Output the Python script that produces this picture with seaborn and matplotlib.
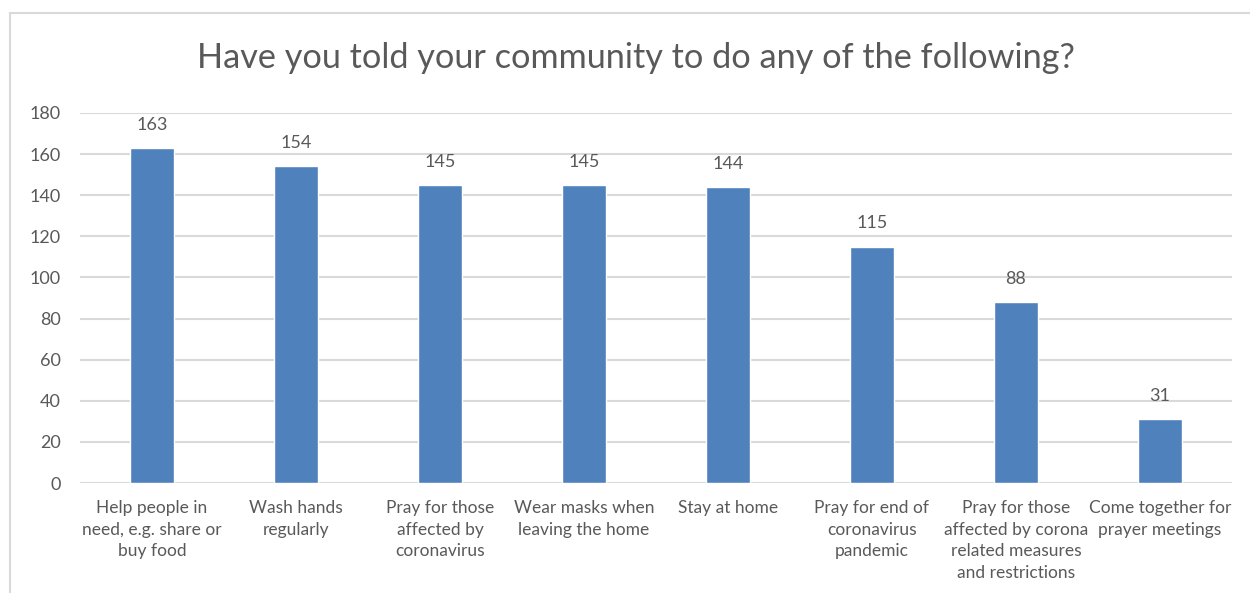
import matplotlib
matplotlib.use("Agg")
import matplotlib.pyplot as plt
import seaborn as sns
import pandas as pd
from matplotlib.patches import Rectangle

categories = [
    "Help people in\nneed, e.g. share or\nbuy food",
    "Wash hands\nregularly",
    "Pray for those\naffected by\ncoronavirus",
    "Wear masks when\nleaving the home",
    "Stay at home",
    "Pray for end of\ncoronavirus\npandemic",
    "Pray for those\naffected by corona\nrelated measures\nand restrictions",
    "Come together for\nprayer meetings",
]
counts = [163, 154, 145, 145, 144, 115, 88, 31]
y_ticks = [0, 20, 40, 60, 80, 100, 120, 140, 160, 180]
title = "Have you told your community to do any of the following?"

BAR = "#4F81BD"
TEXT = "#595959"
GRID = "#D9D9D9"

sns.set_theme(style="white")
plt.rcParams["font.family"] = ["Lato", "DejaVu Sans"]

W, H = 1250, 593
fig = plt.figure(figsize=(W / 100, H / 100), dpi=100)

# outer chart frame (left and top edges visible)
fig.patches.append(Rectangle((10 / W, -0.1), 1.2, (H - 13) / H + 0.1,
                             transform=fig.transFigure, fill=False,
                             edgecolor=GRID, linewidth=1.5))

left, right, top, bottom = 80, 1232, 113, 483
ax = fig.add_axes([left / W, 1 - bottom / H, (right - left) / W, (bottom - top) / H])

df = pd.DataFrame({"category": categories, "count": counts})
sns.barplot(data=df, x="category", y="count", color=BAR, saturation=1,
            width=0.31, ax=ax)

ax.set_ylim(0, 180)
ax.set_yticks(y_ticks)
ax.set_xlim(-0.5, len(categories) - 0.5)
ax.yaxis.grid(True, color=GRID, linewidth=1.5)
ax.set_axisbelow(True)
for s in ax.spines.values():
    s.set_visible(False)
ax.set_xlabel("")
ax.set_ylabel("")
ax.tick_params(axis="y", length=0, pad=14, labelsize=13, labelcolor=TEXT)
ax.tick_params(axis="x", length=0, pad=12, labelsize=12.5, labelcolor=TEXT)
for lbl in ax.get_xticklabels():
    lbl.set_linespacing(1.45)

for cont in ax.containers:
    ax.bar_label(cont, labels=[str(v) for v in counts], padding=11,
                 fontsize=13, color=TEXT)

fig.text(636 / W, 1 - 58 / H, title, ha="center",
         va="center", fontsize=24.7, color=TEXT)

fig.savefig("out.png", dpi=100, facecolor="white")
